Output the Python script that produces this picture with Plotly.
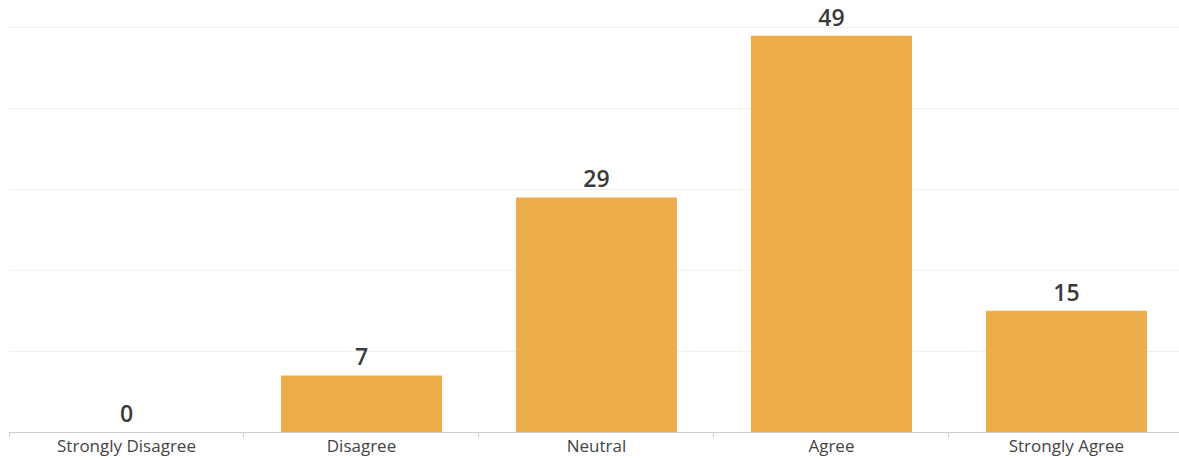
import plotly.graph_objects as go

categories = ["Strongly Disagree", "Disagree", "Neutral", "Agree", "Strongly Agree"]
counts = [0, 7, 29, 49, 15]

bar_color = "#EDAD4A"

fig = go.Figure(
    go.Bar(
        x=categories,
        y=counts,
        width=0.685,
        marker=dict(color=bar_color, line=dict(width=0)),
        text=[str(v) for v in counts],
        textposition="outside",
        textfont=dict(family="Open Sans", size=23, color="#3a3a3a", weight=600),
        cliponaxis=False,
    )
)

fig.update_layout(
    width=1179,
    height=460,
    margin=dict(l=9, r=0, t=26, b=28),
    paper_bgcolor="white",
    plot_bgcolor="white",
    showlegend=False,
    bargap=0.3,
)

fig.update_xaxes(
    range=[-0.5, 4.479],
    automargin=False,
    showline=True,
    linecolor="#cccccc",
    linewidth=1,
    ticks="outside",
    tickson="boundaries",
    ticklen=4,
    tickcolor="#cccccc",
    ticklabelstandoff=-1,
    tickfont=dict(family="Open Sans", size=17, color="#444444"),
    showgrid=False,
)

fig.update_yaxes(
    range=[0, 50.2],
    tickvals=[10, 20, 30, 40, 50],
    automargin=False,
    showticklabels=False,
    showgrid=True,
    gridcolor="#f0f0f0",
    gridwidth=1,
    zeroline=False,
)

fig.write_html("out.html")
